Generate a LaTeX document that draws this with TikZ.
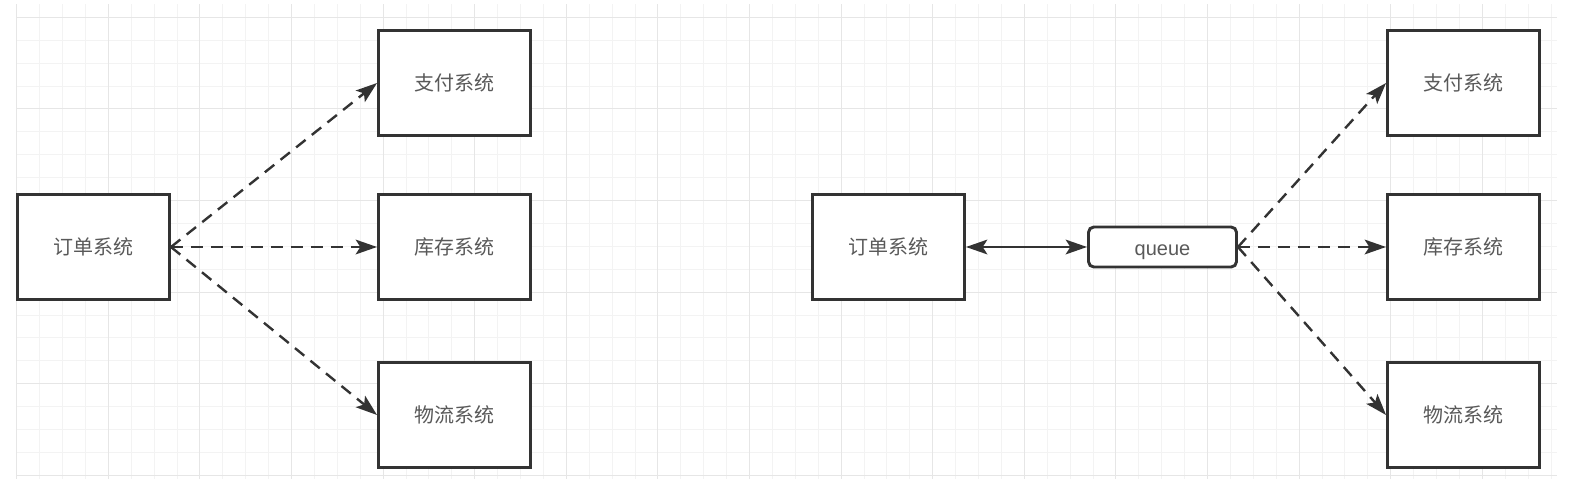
\documentclass[tikz,border=0pt]{standalone}
\usepackage{fontspec}
\setmainfont{Liberation Sans}
\newfontfamily\cjk{Noto Sans CJK SC}
\usetikzlibrary{arrows.meta}
\definecolor{gridmin}{HTML}{F3F3F3}
\definecolor{gridmaj}{HTML}{E6E6E6}
\definecolor{linec}{HTML}{333333}
\definecolor{textc}{HTML}{595959}
\tikzset{
  sysbox/.style={draw=linec, line width=2.2pt, fill=white, minimum width=114pt,
    minimum height=78.5pt, inner sep=0pt, text=textc,
    font=\cjk\fontsize{15}{18}\selectfont},
  qbox/.style={sysbox, rounded corners=4pt, minimum width=111pt,
    minimum height=30pt, text height=12pt, text depth=0pt,
    font=\fontsize{15}{18}\selectfont},
  flow/.style={draw=linec, line width=1.8pt, dash pattern=on 9pt off 6pt,
    -{Stealth[length=16pt,width=11pt,inset=3.5pt]}},
  both/.style={draw=linec, line width=1.8pt,
    {Stealth[length=16pt,width=11pt,inset=3.5pt]}-{Stealth[length=16pt,width=11pt,inset=3.5pt]}},
}

\begin{document}
\begin{tikzpicture}[x=0.75pt,y=-0.75pt]
    \useasboundingbox (0,0) rectangle (1580,496);
    % grid
    \begin{scope}
        \clip (16,4) rectangle (1557,479);
        \foreach \i in {0,...,67}
        \draw[gridmin, line width=0.75pt] ({16.7+22.9*\i},4) -- ++(0,475);
        \foreach \i in {0,...,20}
        \draw[gridmin, line width=0.75pt] (16,{17.3+22.9*\i}) -- ++(1541,0);
        \foreach \i in {0,4,...,64}
        \draw[gridmaj, line width=0.75pt] ({16.7+22.9*\i},4) -- ++(0,475);
        \foreach \i in {0,4,...,20}
        \draw[gridmaj, line width=0.75pt] (16,{17.3+22.9*\i}) -- ++(1541,0);
    \end{scope}

    % left: direct calls
    \node[sysbox] (ordL) at (93.5,247) {订单系统};
    \node[sysbox] (payL) at (454.5,83) {支付系统};
    \node[sysbox] (stockL) at (454.5,247) {库存系统};
    \node[sysbox] (shipL) at (454.5,415) {物流系统};
    \foreach \t in {payL, stockL, shipL}
        \draw[flow] (ordL.east) -- (\t.west);

    % right: through the queue
    \node[sysbox] (ordR) at (888.5,247) {订单系统};
    \node[qbox] (queue) at (1162.5,247) {queue};
    \node[sysbox] (payR) at (1463.5,83) {支付系统};
    \node[sysbox] (stockR) at (1463.5,247) {库存系统};
    \node[sysbox] (shipR) at (1463.5,415) {物流系统};
    \draw[both] (ordR.east) -- (queue.west);
    \foreach \t in {payR, stockR, shipR}
        \draw[flow] (queue.east) -- (\t.west);
\end{tikzpicture}
\end{document}
